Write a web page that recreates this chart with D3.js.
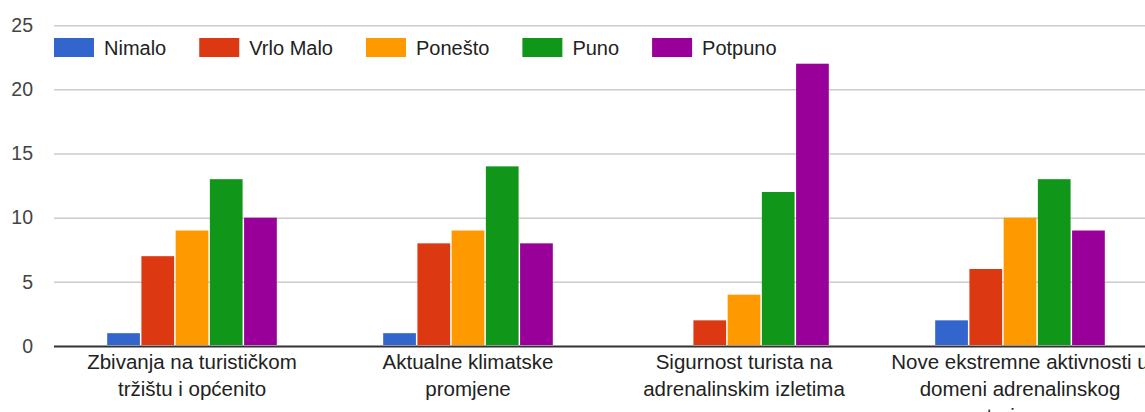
<!DOCTYPE html>
<html>
<head>
<meta charset="utf-8">
<script src="https://cdn.jsdelivr.net/npm/d3@7"></script>
<style>
	body { margin: 0; background: #fff; overflow: hidden; }
	text { font-family: "Liberation Sans", Arial, sans-serif; }
</style>
</head>
<body>
<div id="chart"></div>
<script>
/************ Data ************/
var categories = ['Zbivanja na turističkom tržištu i općenito', 'Aktualne klimatske promjene',
	'Sigurnost turista na adrenalinskim izletima', 'Nove ekstremne aktivnosti u domeni adrenalinskog turizma'];
var categoryLines = [
	['Zbivanja na turističkom', 'tržištu i općenito'],
	['Aktualne klimatske', 'promjene'],
	['Sigurnost turista na', 'adrenalinskim izletima'],
	['Nove ekstremne aktivnosti u', 'domeni adrenalinskog', 'turizma']
];
var seriesNames = ['Nimalo', 'Vrlo Malo', 'Ponešto', 'Puno', 'Potpuno'];
var nimalo = [1, 1, 0, 2],
	vrloMalo = [7, 8, 2, 6],
	ponesto = [9, 9, 4, 10],
	puno = [13, 14, 12, 13],
	potpuno = [10, 8, 22, 9];
var yTicks = [0, 5, 10, 15, 20, 25];
var seriesColors = ['#3366cc', '#dc3912', '#ff9900', '#109618', '#990099'];

/************ Layout ************/
var width = 1145,
	height = 412,
	plotLeft = 54,
	plotRight = 1158,   // plot runs past the window edge, as in the original
	plotTop = 25.2,
	plotBottom = 346,
	groupShare = 0.62;

var svg = d3.select('#chart').append('svg')
	.attr('width', width)
	.attr('height', height);

var x0 = d3.scaleBand()
	.domain(categories)
	.range([plotLeft, plotRight]);

var groupWidth = x0.bandwidth() * groupShare;
var x1 = d3.scaleBand()
	.domain(seriesNames)
	.range([(x0.bandwidth() - groupWidth) / 2, (x0.bandwidth() + groupWidth) / 2]);

var y = d3.scaleLinear()
	.domain([0, 25])
	.range([plotBottom, plotTop]);

var color = d3.scaleOrdinal()
	.domain(seriesNames)
	.range(seriesColors);

var allSeries = [nimalo, vrloMalo, ponesto, puno, potpuno];

drawGrid();
drawBars();
drawCategoryLabels();
drawLegend();

/* gridlines + left axis labels */
function drawGrid(){
	var yAxis = svg.append('g')
		.attr('transform', 'translate(' + plotLeft + ',0)')
		.call(d3.axisLeft(y)
			.tickValues(yTicks)
			.tickSize(-(plotRight - plotLeft))
			.tickPadding(21)
			.tickFormat(function(d){ return d; }));
	yAxis.select('.domain').remove();
	yAxis.selectAll('.tick line')
		.attr('stroke', function(d){ return d === 0 ? '#333' : '#cccccc'; })
		.attr('stroke-width', function(d){ return d === 0 ? 2 : 1.5; });
	yAxis.selectAll('.tick text')
		.attr('fill', '#444')
		.style('font-size', '19.5px')
		.style('font-family', '"Liberation Sans", Arial, sans-serif');
}

/* grouped bars */
function drawBars(){
	var groups = svg.selectAll('.group')
		.data(categories)
		.enter().append('g')
			.attr('class', 'group')
			.attr('transform', function(d){ return 'translate(' + x0(d) + ',0)'; });

	groups.selectAll('rect')
		.data(function(d, i){
			return seriesNames.map(function(s, j){ return {name: s, value: allSeries[j][i]}; });
		})
		.enter().append('rect')
			.filter(function(d){ return d.value > 0; })
			.attr('x', function(d){ return x1(d.name) + 0.75; })
			.attr('width', x1.bandwidth() - 1.5)
			.attr('y', function(d){ return y(d.value); })
			.attr('height', function(d){ return y(0) - y(d.value) - 1; })
			.attr('fill', function(d){ return color(d.name); });
}

/* wrapped category labels under the baseline (last line is clipped by the frame, like the original) */
function drawCategoryLabels(){
	var labels = svg.selectAll('.cat-label')
		.data(categories)
		.enter().append('text')
			.attr('class', 'cat-label')
			.attr('text-anchor', 'middle')
			.attr('fill', '#222')
			.style('font-size', '20.5px');
	labels.each(function(d, i){
		var t = d3.select(this);
		categoryLines[i].forEach(function(line, k){
			t.append('tspan')
				.attr('x', x0(d) + x0.bandwidth() / 2)
				.attr('y', 369 + k * 27)
				.text(line);
		});
	});
}

/* legend along the top */
function drawLegend(){
	var legend = svg.append('g').attr('class', 'legend');
	var cursor = 54;
	seriesNames.forEach(function(s){
		legend.append('rect')
			.attr('x', cursor)
			.attr('y', 38)
			.attr('width', 40)
			.attr('height', 19)
			.attr('fill', color(s));
		var t = legend.append('text')
			.attr('x', cursor + 50)
			.attr('y', 54.5)
			.attr('fill', '#222')
			.style('font-size', '20px')
			.text(s);
		cursor += 50 + t.node().getComputedTextLength() + 33;
	});
}
</script>
</body>
</html>
